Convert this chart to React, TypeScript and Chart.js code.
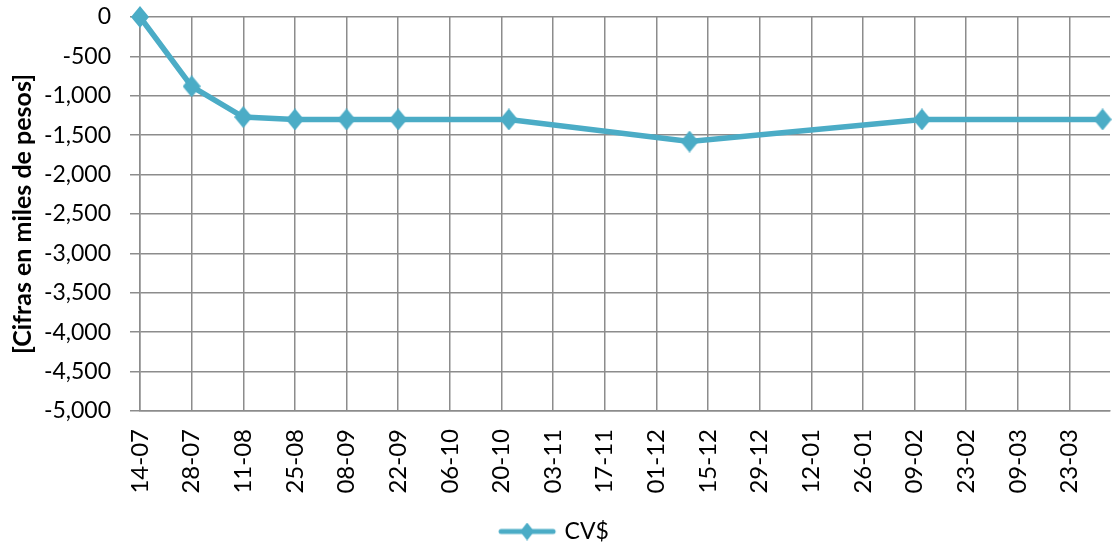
import React, { useEffect, useRef } from 'react';
import { Chart, registerables } from 'chart.js';

Chart.register(...registerables);

// ---- data ----
const startDate = '2014-07-14';
const axisEndDays = 263;
const tickStepDays = 14;
const pointDates = [
  '2014-07-14', '2014-07-28', '2014-08-11', '2014-08-25', '2014-09-08',
  '2014-09-22', '2014-10-22', '2014-12-10', '2015-02-11', '2015-04-01',
];
const pointValues = [0, -880, -1270, -1300, -1300, -1300, -1300, -1580, -1300, -1300];
const yMin = -5000;
const yMax = 0;
const yStep = 500;
const seriesLabel = 'CV$';
const yTitle = '[Cifras en miles de pesos]';

// ---- helpers ----
const DAY = 86400000;
const startMs = Date.parse(startDate + 'T00:00:00Z');
const toDays = (d: string) => Math.round((Date.parse(d + 'T00:00:00Z') - startMs) / DAY);
const fmtTick = (days: number) => {
  const dt = new Date(startMs + days * DAY);
  return String(dt.getUTCDate()).padStart(2, '0') + '-' + String(dt.getUTCMonth() + 1).padStart(2, '0');
};
const fmtNum = (v: number) => {
  const s = Math.abs(v).toString().replace(/\B(?=(\d{3})+(?!\d))/g, ',');
  return (v < 0 ? '-' : '') + s;
};

const COLOR = '#4BACC6';
const GRID = '#8c8c8c';
const FONT = 'Lato, "Open Sans", sans-serif';

function diamondImage(w: number, h: number, color: string) {
  const c = document.createElement('canvas');
  c.width = w;
  c.height = h;
  const g = c.getContext('2d')!;
  g.fillStyle = color;
  g.beginPath();
  g.moveTo(w / 2, 0);
  g.lineTo(w, h / 2);
  g.lineTo(w / 2, h);
  g.lineTo(0, h / 2);
  g.closePath();
  g.fill();
  return c;
}

function legendImage(color: string) {
  const w = 60;
  const h = 18;
  const c = document.createElement('canvas');
  c.width = w;
  c.height = h;
  const g = c.getContext('2d')!;
  g.strokeStyle = color;
  g.lineWidth = 5;
  g.lineCap = 'round';
  g.beginPath();
  g.moveTo(4, h / 2);
  g.lineTo(w - 4, h / 2);
  g.stroke();
  g.fillStyle = color;
  const dw = 14;
  g.beginPath();
  g.moveTo(w / 2, 0);
  g.lineTo(w / 2 + dw / 2, h / 2);
  g.lineTo(w / 2, h);
  g.lineTo(w / 2 - dw / 2, h / 2);
  g.closePath();
  g.fill();
  return c;
}

export default function App() {
  const ref = useRef<HTMLCanvasElement>(null);

  useEffect(() => {
    document.body.style.margin = '0';
    const canvas = ref.current!;
    const pointImg = diamondImage(18, 22, COLOR);
    const legImg = legendImage(COLOR);

    const data = pointDates.map((d, i) => ({ x: toDays(d), y: pointValues[i] }));

    const chart = new Chart(canvas, {
      type: 'line',
      data: {
        datasets: [
          {
            label: seriesLabel,
            data,
            borderColor: COLOR,
            backgroundColor: COLOR,
            borderWidth: 5.5,
            pointStyle: pointImg as any,
            pointRadius: 9,
            tension: 0,
            fill: false,
            clip: false as any,
          },
        ],
      },
      options: {
        responsive: false,
        animation: false,
        layout: { autoPadding: false, padding: { top: 17, right: 3, left: 0, bottom: -6 } },
        plugins: {
          tooltip: { enabled: false },
          legend: {
            position: 'bottom',
            labels: {
              usePointStyle: true,
              pointStyleWidth: 52,
              padding: 0,
              color: '#000',
              font: { family: FONT, size: 23 },
              generateLabels: (ch: any) => {
                const items = Chart.defaults.plugins.legend.labels.generateLabels(ch);
                return items.map((it: any) => ({ ...it, pointStyle: legImg }));
              },
            },
          },
        },
        scales: {
          x: {
            type: 'linear',
            min: 0,
            max: axisEndDays,
            afterBuildTicks: (scale: any) => {
              scale.ticks = scale.ticks.filter((t: any) => t.value % tickStepDays === 0);
            },
            afterFit: (scale: any) => {
              scale.height = 109;
              scale.paddingLeft = 0;
              scale.paddingRight = 0;
            },
            ticks: {
              stepSize: tickStepDays,
              autoSkip: false,
              maxRotation: 90,
              minRotation: 90,
              padding: 18,
              color: '#000',
              font: { family: FONT, size: 24 },
              callback: (v: any) => fmtTick(Number(v)),
            },
            grid: { color: GRID, lineWidth: 1.5, drawTicks: false },
            border: { color: GRID, width: 1.5 },
          },
          y: {
            type: 'linear',
            min: yMin,
            max: yMax,
            afterFit: (scale: any) => {
              scale.width = 140;
              scale.paddingTop = 0;
              scale.paddingBottom = 0;
            },
            ticks: {
              stepSize: yStep,
              padding: 19,
              color: '#000',
              font: { family: FONT, size: 23 },
              callback: (v: any) => fmtNum(Number(v)),
            },
            grid: { color: GRID, lineWidth: 1.5, drawTicks: true, tickLength: 10 },
            border: { color: GRID, width: 1.5 },
            title: {
              display: true,
              text: yTitle,
              color: '#000',
              padding: { top: 8, bottom: 0 },
              font: { family: FONT, size: 25, weight: 'bold' },
            },
          },
        },
      },
    });

    return () => chart.destroy();
  }, []);

  return (
    <div style={{ position: 'absolute', left: 0, top: 0, width: 1113, height: 547 }}>
      <canvas ref={ref} width={1113} height={547} />
    </div>
  );
}
